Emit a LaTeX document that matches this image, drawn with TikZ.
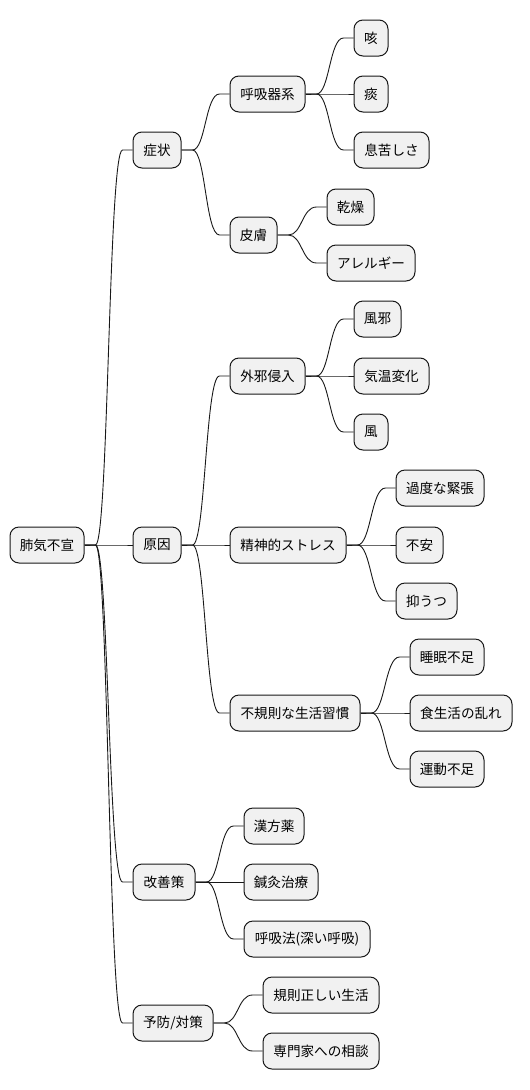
\documentclass[tikz,border=0pt]{standalone}
\usepackage{fontspec}
\newfontfamily\cjk{Noto Sans CJK JP}
\usetikzlibrary{calc}
\definecolor{boxfill}{HTML}{F1F1F1}
\definecolor{boxline}{HTML}{181818}
\tikzset{
  mm/.style={draw=boxline, fill=boxfill, rounded corners=9pt, line width=1pt,
    minimum height=36pt, inner sep=0pt, text=black,
    font=\cjk\fontsize{13.6}{16}\selectfont},
  conn/.style={draw=boxline, line width=0.9pt}
}
\newcommand{\mmedge}[2]{%
  \draw[conn] let \p1=(#1.east), \p2=(#2.west) in
    (\p1) -- (\x1+11pt,\y1) .. controls ({0.5*(\x1+\x2)},\y1) and ({0.5*(\x1+\x2)},\y2) .. (\x2-10pt,\y2) -- (\p2);}
\begin{document}
\begin{tikzpicture}[x=1pt,y=-1pt]
\useasboundingbox (0,0) rectangle (530,1090);
% level 0
\node[mm, minimum width=74pt] (root) at (47,545) {肺気不宣};
% level 1
\node[mm, minimum width=48pt] (shojo) at (157,150) {症状};
\node[mm, minimum width=48pt] (gen) at (157,545) {原因};
\node[mm, minimum width=62pt] (kaizen) at (164,882) {改善策};
\node[mm, minimum width=80pt] (yobo) at (173,1023) {予防/対策};
% level 2
\node[mm, minimum width=75pt] (kokyu) at (267.5,94) {呼吸器系};
\node[mm, minimum width=47pt] (hifu) at (253.5,235) {皮膚};
\node[mm, minimum width=75pt] (gaija) at (267.5,376) {外邪侵入};
\node[mm, minimum width=116pt] (seishin) at (288,545) {精神的ストレス};
\node[mm, minimum width=130pt] (fukisoku) at (295,713) {不規則な生活習慣};
\node[mm, minimum width=60pt] (kampo) at (274,826) {漢方薬};
\node[mm, minimum width=74pt] (shinkyu) at (281,882) {鍼灸治療};
\node[mm, minimum width=126pt] (kokyuho) at (307,939) {呼吸法(深い呼吸)};
\node[mm, minimum width=116pt] (kisoku) at (321,995) {規則正しい生活};
\node[mm, minimum width=116pt] (senmon) at (321,1051) {専門家への相談};
% level 3
\node[mm, minimum width=34pt] (seki) at (371,38) {咳};
\node[mm, minimum width=34pt] (tan) at (371,94) {痰};
\node[mm, minimum width=75pt] (iki) at (391.5,150) {息苦しさ};
\node[mm, minimum width=47pt] (kanso) at (350.5,207) {乾燥};
\node[mm, minimum width=88pt] (arerugi) at (371,263) {アレルギー};
\node[mm, minimum width=47pt] (kaze) at (377.5,319) {風邪};
\node[mm, minimum width=75pt] (kion) at (391.5,376) {気温変化};
\node[mm, minimum width=34pt] (fu) at (371,432) {風};
\node[mm, minimum width=88pt] (kinchou) at (440,488) {過度な緊張};
\node[mm, minimum width=47pt] (fuan) at (419.5,545) {不安};
\node[mm, minimum width=61pt] (yokuutsu) at (426.5,601) {抑うつ};
\node[mm, minimum width=74pt] (suimin) at (447,657) {睡眠不足};
\node[mm, minimum width=102pt] (shoku) at (461,713) {食生活の乱れ};
\node[mm, minimum width=74pt] (undo) at (447,769) {運動不足};
% edges
\mmedge{root}{shojo}
\mmedge{root}{gen}
\mmedge{root}{kaizen}
\mmedge{root}{yobo}
\mmedge{shojo}{kokyu}
\mmedge{shojo}{hifu}
\mmedge{kokyu}{seki}
\mmedge{kokyu}{tan}
\mmedge{kokyu}{iki}
\mmedge{hifu}{kanso}
\mmedge{hifu}{arerugi}
\mmedge{gen}{gaija}
\mmedge{gen}{seishin}
\mmedge{gen}{fukisoku}
\mmedge{gaija}{kaze}
\mmedge{gaija}{kion}
\mmedge{gaija}{fu}
\mmedge{seishin}{kinchou}
\mmedge{seishin}{fuan}
\mmedge{seishin}{yokuutsu}
\mmedge{fukisoku}{suimin}
\mmedge{fukisoku}{shoku}
\mmedge{fukisoku}{undo}
\mmedge{kaizen}{kampo}
\mmedge{kaizen}{shinkyu}
\mmedge{kaizen}{kokyuho}
\mmedge{yobo}{kisoku}
\mmedge{yobo}{senmon}
\end{tikzpicture}
\end{document}
